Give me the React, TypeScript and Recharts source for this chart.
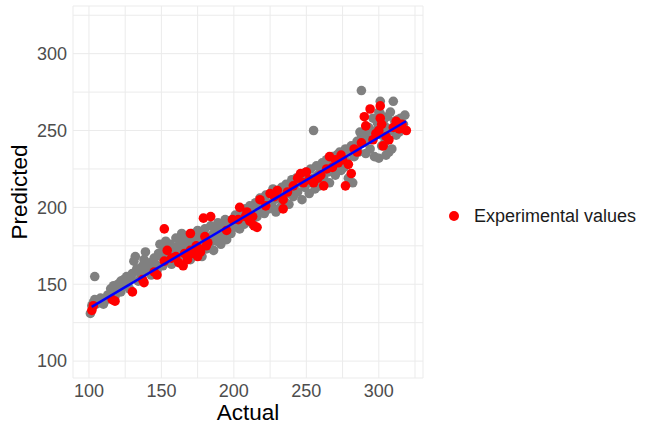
import React from "react";
import { ScatterChart, Scatter, XAxis, YAxis, CartesianGrid, Legend } from "recharts";

// [actual, predicted] pairs
const trainPoints: number[][] = [
  [101, 131], [102, 136], [103, 138], [104, 140], [105, 137], [104, 155], [107, 139], [108, 141], [110, 137], [112, 140],
  [113, 143], [115, 147], [116, 145], [117, 149], [118, 142], [119, 146], [120, 150], [121, 148], [122, 152], [122, 145],
  [124, 153], [125, 149], [126, 155], [127, 151], [128, 147], [129, 154], [130, 157], [131, 165], [132, 168], [133, 160],
  [134, 152], [135, 158], [136, 155], [137, 162], [138, 166], [139, 171], [140, 160], [141, 158], [142, 164], [143, 156],
  [144, 161], [145, 167], [146, 163], [147, 159], [148, 170], [149, 176], [150, 168], [151, 162], [152, 173], [153, 178],
  [154, 165], [155, 170], [156, 176], [157, 163], [158, 172], [159, 168], [160, 180], [160, 174], [161, 166], [162, 171],
  [163, 178], [164, 183], [165, 175], [166, 169], [167, 180], [168, 172], [169, 177], [170, 166], [171, 183], [172, 175],
  [173, 179], [174, 170], [175, 185], [176, 174], [177, 182], [178, 168], [179, 178], [180, 186], [181, 173], [182, 180],
  [183, 176], [184, 188], [185, 182], [186, 172], [187, 185], [188, 178], [189, 190], [190, 183], [191, 176], [192, 187],
  [193, 181], [194, 192], [195, 179], [196, 186], [197, 189], [198, 183], [199, 192], [200, 187],
  [201, 195], [202, 190], [203, 193], [204, 186], [205, 197], [206, 192], [207, 189], [208, 199], [209, 194], [210, 191],
  [211, 201], [212, 196], [213, 189], [214, 198], [215, 203], [216, 194], [217, 200], [218, 206], [219, 197], [220, 202],
  [221, 196], [222, 208], [223, 203], [224, 199], [225, 209], [226, 201], [227, 212], [228, 205], [229, 197], [230, 210],
  [231, 206], [232, 200], [233, 213], [234, 208], [235, 204], [236, 215], [237, 209], [238, 202], [239, 212], [240, 218],
  [241, 207], [242, 214], [243, 219], [244, 210], [245, 216], [246, 221], [247, 205], [248, 218], [249, 213], [250, 223],
  [251, 216], [252, 209], [253, 225], [255, 250], [255, 219], [256, 212], [257, 227], [258, 221], [259, 214], [260, 225],
  [261, 229], [262, 219], [263, 226], [264, 231], [265, 223], [266, 216], [267, 230], [268, 233], [269, 225], [270, 221],
  [271, 234], [272, 228], [273, 236], [274, 224], [275, 232], [276, 226], [277, 238], [278, 230], [279, 219], [280, 236],
  [281, 240], [282, 216], [283, 233], [284, 238], [285, 243], [286, 236], [287, 249], [288, 276], [288, 245], [289, 242],
  [290, 249], [291, 235], [292, 244], [293, 252], [294, 238], [295, 247], [296, 258], [297, 233], [298, 250], [299, 255],
  [300, 232], [300, 262], [301, 269], [301, 261], [302, 247], [303, 256], [304, 242], [305, 252], [305, 234], [306, 259],
  [307, 236], [308, 262], [309, 250], [310, 269], [311, 256], [312, 247], [313, 257], [314, 249], [315, 258], [316, 251],
  [317, 254], [318, 260], [302, 240], [309, 238],
];

const testPoints: number[][] = [
  [102, 133], [103, 136], [116, 140], [118, 139], [130, 145], [137, 153], [138, 151], [147, 156], [145, 158], [152, 165],
  [154, 172], [152, 186], [157, 167], [160, 168], [162, 164], [165, 162], [166, 170], [168, 166], [170, 183], [170, 172],
  [172, 170], [174, 175], [175, 168], [176, 173], [179, 193], [180, 181], [181, 175], [182, 177], [184, 194], [177, 171],
  [195, 185], [199, 192], [203, 192], [204, 200], [209, 197], [208, 194], [211, 191], [213, 194], [214, 188], [216, 187],
  [218, 205], [222, 201], [225, 209], [228, 207], [230, 211], [234, 205], [234, 199], [237, 210], [241, 214], [244, 219],
  [246, 222], [248, 216], [250, 223], [252, 218], [255, 216], [258, 219], [260, 221], [262, 214], [264, 225], [266, 233],
  [268, 226], [270, 231], [272, 229], [274, 234], [275, 231], [277, 214], [279, 228], [281, 222], [283, 238], [285, 236],
  [288, 242], [290, 259], [291, 253], [294, 264], [296, 244], [298, 248], [300, 250], [301, 266], [301, 258], [302, 254],
  [303, 240], [305, 246], [307, 244], [310, 252], [312, 256], [314, 251], [316, 254], [319, 250],
];

// fitted regression line end points
const fitActual = [101.9, 318.8];
const fitPredicted = [135.3, 256.0];

const axisTicks = [100, 125, 150, 175, 200, 225, 250, 275, 300, 325];

const FONT = "'Liberation Sans', Arial, sans-serif";

const toRows = (pts: number[][]) => pts.map(([actual, predicted]) => ({ actual, predicted }));
const trainData = toRows(trainPoints);
const testData = toRows(testPoints);
const fitData = fitActual.map((a, i) => ({ actual: a, predicted: fitPredicted[i] }));

const dot = (color: string) => (props: any) => <circle cx={props.cx} cy={props.cy} r={4.8} fill={color} />;

const tickFmt = (v: number) => (v % 50 === 0 ? String(v) : "");

function LegendBox() {
  return (
    <div style={{ display: "flex", alignItems: "center", fontFamily: FONT, fontSize: 18, color: "#1a1a1a", lineHeight: "22px", whiteSpace: "nowrap" }}>
      <svg width={10} height={10}>
        <circle cx={5} cy={5} r={5} fill="#ff0000" />
      </svg>
      <span style={{ marginLeft: 15 }}>Experimental values</span>
    </div>
  );
}

export default function App() {
  return (
    <div style={{ position: "absolute", left: 0, top: 0, background: "#fff" }}>
      <ScatterChart width={645} height={424} margin={{ top: 6, right: 222, left: 0, bottom: 0 }}>
        <CartesianGrid stroke="#ebebeb" strokeWidth={1} />
        <XAxis
          type="number"
          dataKey="actual"
          domain={[89, 330.5]}
          ticks={axisTicks}
          interval={0}
          allowDataOverflow
          tickFormatter={tickFmt}
          axisLine={false}
          tickLine={false}
          tickSize={0}
          tickMargin={6}
          height={46}
          tick={{ fill: "#4d4d4d", fontSize: 18, fontFamily: FONT }}
          label={{ value: "Actual", position: "insideBottom", offset: 4, fill: "#000", fontSize: 22.5, fontFamily: FONT }}
        />
        <YAxis
          type="number"
          dataKey="predicted"
          domain={[89, 331]}
          ticks={axisTicks}
          interval={0}
          allowDataOverflow
          tickFormatter={tickFmt}
          axisLine={false}
          tickLine={false}
          tickSize={0}
          tickMargin={6}
          width={73}
          tick={{ fill: "#4d4d4d", fontSize: 18, fontFamily: FONT }}
          label={{ value: "Predicted", angle: -90, position: "insideLeft", offset: 19, fill: "#000", fontSize: 22.5, fontFamily: FONT, style: { textAnchor: "middle" } }}
        />
        <Legend
          layout="horizontal"
          align="center"
          verticalAlign="middle"
          wrapperStyle={{ left: 449, top: 205, width: "auto" }}
          content={() => <LegendBox />}
        />
        <Scatter name="train" data={trainData} fill="#808080" shape={dot("#808080")} legendType="none" isAnimationActive={false} />
        <Scatter name="Experimental values" data={testData} fill="#ff0000" shape={dot("#ff0000")} isAnimationActive={false} />
        <Scatter
          name="fit"
          data={fitData}
          line={{ stroke: "#0000ff", strokeWidth: 2.5 }}
          shape={() => null}
          legendType="none"
          isAnimationActive={false}
        />
      </ScatterChart>
    </div>
  );
}
